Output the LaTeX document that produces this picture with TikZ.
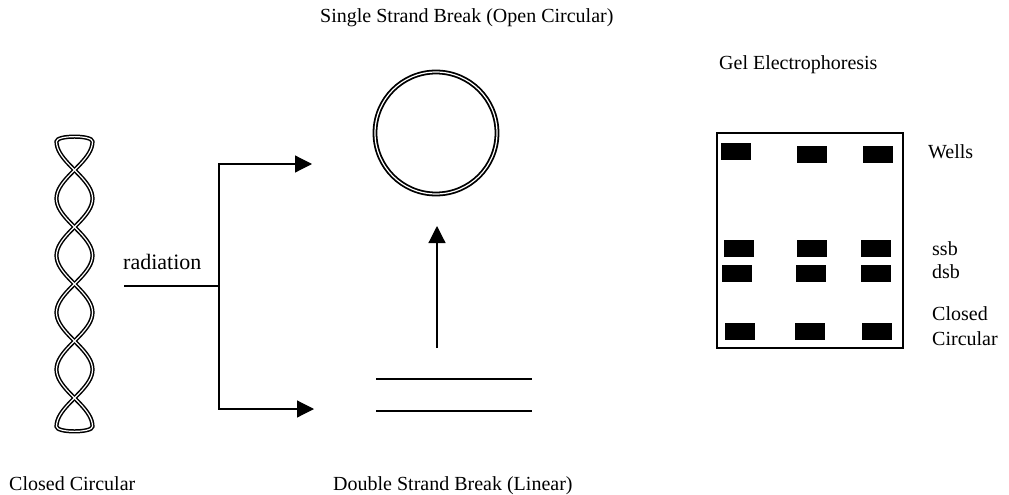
\documentclass[tikz,border=0pt]{standalone}
\usepackage{fontspec}
\setmainfont{Liberation Serif}
\usetikzlibrary{arrows.meta}
\begin{document}
\begin{tikzpicture}[x=1pt,y=-1pt,
  lbl/.style={anchor=base west,inner sep=0pt,font=\fontsize{20}{22}\selectfont},
  arr/.style={line width=1.2pt,-{Triangle[length=17pt,width=17pt]}},
  strand/.style={draw=black,line width=1.5pt,double=white,double distance=1.2pt},
  band/.style={fill=black}]
  \useasboundingbox (0,0) rectangle (1009,495);
  \node[lbl] (ssbtitle) at (320,23) {Single Strand Break (Open Circular)};
  \node[lbl] (geltitle) at (719,70) {Gel Electrophoresis};
  \node[lbl] (cctitle) at (9,490) {Closed Circular};
  \node[lbl] (dsbtitle) at (333,490) {Double Strand Break (Linear)};
  % supercoiled plasmid
  \draw[strand] plot[domain=-0.5:4.5,samples=101] ({74.5+18*sin(180*\x)},{170+57*\x})
    .. controls (92.5,433) and (56.5,433) .. (56.5,426.5)
    -- plot[domain=-0.5:4.5,samples=101] ({74.5-18*sin(180*(4-\x))},{170+57*(4-\x)})
    .. controls (92.5,135) and (56.5,135) .. (56.5,141.5) -- cycle;
  % radiation splits into the two breaks
  \node[lbl,font=\fontsize{22}{24}\selectfont] (radlbl) at (123,269) {radiation};
  \coordinate (radin) at (124,286);
  \coordinate (fork) at (219,286);
  \coordinate (toss) at (312,164);
  \coordinate (tods) at (314,409);
  \draw[line width=1.2pt] (radin) -- (fork);
  \draw[arr] (fork) |- (toss);
  \draw[arr] (fork) |- (tods);
  % open circular and linear forms
  \node[draw,circle,line width=1.8pt,double=white,double distance=1.2pt,
    minimum size=122pt,inner sep=0pt] (oc) at (436,133) {};
  \draw[line width=1.4pt] (376,379) -- (532,379);
  \draw[line width=1.4pt] (376,411) -- (532,411);
  \coordinate (lintop) at (437,348);
  \coordinate (octip) at (437,226);
  \draw[arr] (lintop) -- (octip);
  % gel
  \node[draw,line width=1.3pt,minimum width=186pt,minimum height=215pt,
    inner sep=0pt] (gel) at (810,240.5) {};
  \foreach \bx/\by in {736/151.5,811.5/154,877.5/154,
                       739/248.5,811.5/248.5,875.5/248.5,
                       737/273,810.5/273,875.5/273,
                       740/331,810/331,877/331}
    \fill[band] (\bx-15,\by-8.5) rectangle (\bx+15,\by+8.5);
  \node[lbl] (wells) at (928,158) {Wells};
  \node[lbl] (ssb) at (932,255) {ssb};
  \node[lbl] (dsb) at (932,278) {dsb};
  \node[lbl] (ccl) at (932,320) {Closed};
  \node[lbl] (ccl2) at (932,345) {Circular};
\end{tikzpicture}
\end{document}
